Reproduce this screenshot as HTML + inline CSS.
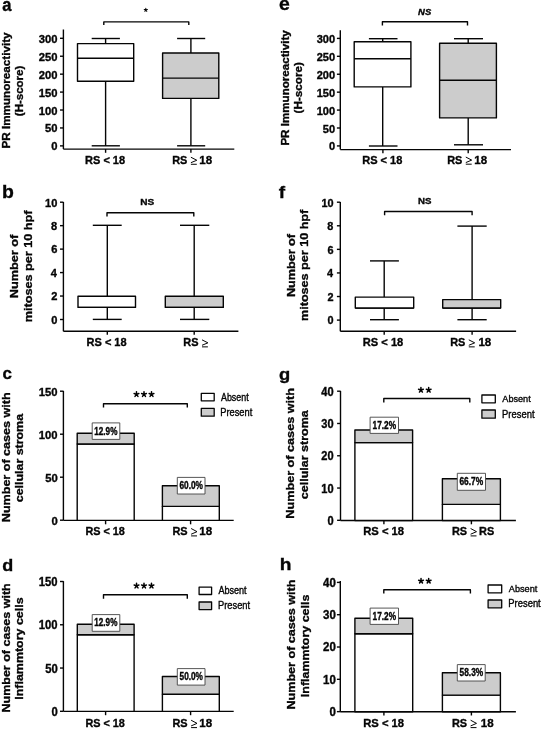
<!DOCTYPE html>
<html><head><meta charset="utf-8"><style>
html,body{margin:0;padding:0;background:#fff;}
svg{display:block;}
text{font-family:"Liberation Sans",sans-serif;fill:#050505;stroke:#050505;stroke-width:0.35px;vector-effect:non-scaling-stroke;}
</style></head><body>
<svg width="543" height="729" viewBox="0 0 543 729">
<rect width="543" height="729" fill="#fff"/>
<g stroke="#050505" fill="none" stroke-linecap="butt" stroke-linejoin="round">
<line x1="63.40" y1="29.50" x2="63.40" y2="149.10" stroke-width="1.4"/>
<line x1="60.00" y1="38.30" x2="63.40" y2="38.30" stroke-width="1.4"/>
<line x1="60.00" y1="56.23" x2="63.40" y2="56.23" stroke-width="1.4"/>
<line x1="60.00" y1="74.16" x2="63.40" y2="74.16" stroke-width="1.4"/>
<line x1="60.00" y1="92.09" x2="63.40" y2="92.09" stroke-width="1.4"/>
<line x1="60.00" y1="110.02" x2="63.40" y2="110.02" stroke-width="1.4"/>
<line x1="60.00" y1="127.95" x2="63.40" y2="127.95" stroke-width="1.4"/>
<line x1="60.00" y1="145.88" x2="63.40" y2="145.88" stroke-width="1.4"/>
<line x1="63.40" y1="149.10" x2="234.30" y2="149.10" stroke-width="1.4"/>
<line x1="105.60" y1="149.10" x2="105.60" y2="152.80" stroke-width="1.4"/>
<line x1="190.90" y1="149.10" x2="190.90" y2="152.80" stroke-width="1.4"/>
<line x1="105.60" y1="38.50" x2="105.60" y2="43.60" stroke-width="1.4"/>
<line x1="105.60" y1="81.20" x2="105.60" y2="145.80" stroke-width="1.4"/>
<line x1="91.70" y1="38.50" x2="119.90" y2="38.50" stroke-width="1.4"/>
<line x1="91.70" y1="145.80" x2="119.90" y2="145.80" stroke-width="1.4"/>
<rect x="77.50" y="43.60" width="56.20" height="37.60" fill="#fff" stroke="#050505" stroke-width="1.4"/>
<line x1="77.50" y1="58.20" x2="133.70" y2="58.20" stroke-width="1.4"/>
<line x1="190.90" y1="38.50" x2="190.90" y2="53.00" stroke-width="1.4"/>
<line x1="190.90" y1="98.40" x2="190.90" y2="145.80" stroke-width="1.4"/>
<line x1="177.10" y1="38.50" x2="205.20" y2="38.50" stroke-width="1.4"/>
<line x1="177.10" y1="145.80" x2="205.20" y2="145.80" stroke-width="1.4"/>
<rect x="162.60" y="53.00" width="56.20" height="45.40" fill="#cccccc" stroke="#050505" stroke-width="1.4"/>
<line x1="162.60" y1="78.10" x2="218.80" y2="78.10" stroke-width="1.4"/>
<polyline points="103.80,24.90 103.80,21.90 188.80,21.90 188.80,24.90" fill="none" stroke-width="1.4"/>
<path d="M145.80,9.98L145.80,8.30M145.80,9.98L147.39,9.46M145.80,9.98L144.20,9.46M145.80,9.98L146.78,11.33M145.80,9.98L144.81,11.33" stroke-width="1.01" stroke-linecap="round" stroke="#000"/>
<polyline points="190.90,157.24 196.80,160.25 190.90,162.69" fill="none" stroke-width="1.0" stroke-linejoin="miter"/>
<line x1="190.90" y1="164.27" x2="196.80" y2="164.27" stroke-width="1.0"/>
<line x1="340.30" y1="30.20" x2="340.30" y2="149.60" stroke-width="1.4"/>
<line x1="336.90" y1="38.40" x2="340.30" y2="38.40" stroke-width="1.4"/>
<line x1="336.90" y1="56.32" x2="340.30" y2="56.32" stroke-width="1.4"/>
<line x1="336.90" y1="74.24" x2="340.30" y2="74.24" stroke-width="1.4"/>
<line x1="336.90" y1="92.16" x2="340.30" y2="92.16" stroke-width="1.4"/>
<line x1="336.90" y1="110.08" x2="340.30" y2="110.08" stroke-width="1.4"/>
<line x1="336.90" y1="128.00" x2="340.30" y2="128.00" stroke-width="1.4"/>
<line x1="336.90" y1="145.92" x2="340.30" y2="145.92" stroke-width="1.4"/>
<line x1="340.30" y1="149.60" x2="511.00" y2="149.60" stroke-width="1.4"/>
<line x1="382.90" y1="149.60" x2="382.90" y2="153.20" stroke-width="1.4"/>
<line x1="468.20" y1="149.60" x2="468.20" y2="153.20" stroke-width="1.4"/>
<line x1="382.70" y1="38.70" x2="382.70" y2="41.80" stroke-width="1.4"/>
<line x1="382.70" y1="86.90" x2="382.70" y2="146.00" stroke-width="1.4"/>
<line x1="368.90" y1="38.70" x2="397.50" y2="38.70" stroke-width="1.4"/>
<line x1="368.90" y1="146.00" x2="397.50" y2="146.00" stroke-width="1.4"/>
<rect x="354.20" y="41.80" width="56.70" height="45.10" fill="#fff" stroke="#050505" stroke-width="1.4"/>
<line x1="354.20" y1="58.70" x2="410.90" y2="58.70" stroke-width="1.4"/>
<line x1="468.20" y1="38.70" x2="468.20" y2="43.30" stroke-width="1.4"/>
<line x1="468.20" y1="117.90" x2="468.20" y2="144.80" stroke-width="1.4"/>
<line x1="454.00" y1="38.70" x2="483.00" y2="38.70" stroke-width="1.4"/>
<line x1="454.00" y1="144.80" x2="483.00" y2="144.80" stroke-width="1.4"/>
<rect x="439.60" y="43.30" width="56.80" height="74.60" fill="#cccccc" stroke="#050505" stroke-width="1.4"/>
<line x1="439.60" y1="80.30" x2="496.40" y2="80.30" stroke-width="1.4"/>
<polyline points="382.40,25.40 382.40,21.70 467.50,21.70 467.50,25.40" fill="none" stroke-width="1.4"/>
<polyline points="465.80,157.06 471.70,160.10 465.80,162.58" fill="none" stroke-width="1.0" stroke-linejoin="miter"/>
<line x1="465.80" y1="164.18" x2="471.70" y2="164.18" stroke-width="1.0"/>
<line x1="63.40" y1="202.00" x2="63.40" y2="331.30" stroke-width="1.4"/>
<line x1="60.00" y1="202.20" x2="63.40" y2="202.20" stroke-width="1.4"/>
<line x1="60.00" y1="225.66" x2="63.40" y2="225.66" stroke-width="1.4"/>
<line x1="60.00" y1="249.12" x2="63.40" y2="249.12" stroke-width="1.4"/>
<line x1="60.00" y1="272.58" x2="63.40" y2="272.58" stroke-width="1.4"/>
<line x1="60.00" y1="296.04" x2="63.40" y2="296.04" stroke-width="1.4"/>
<line x1="60.00" y1="319.50" x2="63.40" y2="319.50" stroke-width="1.4"/>
<line x1="63.40" y1="331.30" x2="238.40" y2="331.30" stroke-width="1.4"/>
<line x1="107.30" y1="331.30" x2="107.30" y2="334.80" stroke-width="1.4"/>
<line x1="194.20" y1="331.30" x2="194.20" y2="334.80" stroke-width="1.4"/>
<line x1="107.30" y1="225.30" x2="107.30" y2="296.30" stroke-width="1.4"/>
<line x1="107.30" y1="307.40" x2="107.30" y2="319.40" stroke-width="1.4"/>
<line x1="92.80" y1="225.30" x2="121.70" y2="225.30" stroke-width="1.4"/>
<line x1="92.80" y1="319.40" x2="121.70" y2="319.40" stroke-width="1.4"/>
<rect x="78.00" y="296.30" width="57.50" height="11.10" fill="#fff" stroke="#050505" stroke-width="1.4"/>
<line x1="78.00" y1="307.40" x2="135.50" y2="307.40" stroke-width="1.4"/>
<line x1="194.20" y1="225.30" x2="194.20" y2="296.30" stroke-width="1.4"/>
<line x1="194.20" y1="307.40" x2="194.20" y2="319.40" stroke-width="1.4"/>
<line x1="180.00" y1="225.30" x2="209.30" y2="225.30" stroke-width="1.4"/>
<line x1="180.00" y1="319.40" x2="209.30" y2="319.40" stroke-width="1.4"/>
<rect x="165.30" y="296.30" width="58.00" height="11.10" fill="#cccccc" stroke="#050505" stroke-width="1.4"/>
<line x1="165.30" y1="307.40" x2="223.30" y2="307.40" stroke-width="1.4"/>
<polyline points="107.00,216.40 107.00,212.80 193.80,212.80 193.80,216.40" fill="none" stroke-width="1.4"/>
<polyline points="202.00,339.84 207.90,342.84 202.00,345.29" fill="none" stroke-width="1.0" stroke-linejoin="miter"/>
<line x1="202.00" y1="346.87" x2="207.90" y2="346.87" stroke-width="1.0"/>
<line x1="340.30" y1="202.00" x2="340.30" y2="331.30" stroke-width="1.4"/>
<line x1="336.90" y1="202.20" x2="340.30" y2="202.20" stroke-width="1.4"/>
<line x1="336.90" y1="225.78" x2="340.30" y2="225.78" stroke-width="1.4"/>
<line x1="336.90" y1="249.36" x2="340.30" y2="249.36" stroke-width="1.4"/>
<line x1="336.90" y1="272.94" x2="340.30" y2="272.94" stroke-width="1.4"/>
<line x1="336.90" y1="296.52" x2="340.30" y2="296.52" stroke-width="1.4"/>
<line x1="336.90" y1="320.10" x2="340.30" y2="320.10" stroke-width="1.4"/>
<line x1="340.30" y1="331.30" x2="516.10" y2="331.30" stroke-width="1.4"/>
<line x1="384.20" y1="331.30" x2="384.20" y2="334.80" stroke-width="1.4"/>
<line x1="472.10" y1="331.30" x2="472.10" y2="334.80" stroke-width="1.4"/>
<line x1="384.20" y1="260.90" x2="384.20" y2="297.10" stroke-width="1.4"/>
<line x1="384.20" y1="308.10" x2="384.20" y2="319.70" stroke-width="1.4"/>
<line x1="370.00" y1="260.90" x2="398.90" y2="260.90" stroke-width="1.4"/>
<line x1="370.00" y1="319.70" x2="398.90" y2="319.70" stroke-width="1.4"/>
<rect x="355.30" y="297.10" width="58.40" height="11.00" fill="#fff" stroke="#050505" stroke-width="1.4"/>
<line x1="355.30" y1="308.10" x2="413.70" y2="308.10" stroke-width="1.4"/>
<line x1="472.10" y1="226.10" x2="472.10" y2="299.60" stroke-width="1.4"/>
<line x1="472.10" y1="308.10" x2="472.10" y2="319.70" stroke-width="1.4"/>
<line x1="457.40" y1="226.10" x2="486.70" y2="226.10" stroke-width="1.4"/>
<line x1="457.40" y1="319.70" x2="486.70" y2="319.70" stroke-width="1.4"/>
<rect x="442.70" y="299.60" width="58.00" height="8.50" fill="#cccccc" stroke="#050505" stroke-width="1.4"/>
<line x1="442.70" y1="308.10" x2="500.70" y2="308.10" stroke-width="1.4"/>
<polyline points="384.60,215.20 384.60,211.50 472.10,211.50 472.10,215.20" fill="none" stroke-width="1.4"/>
<polyline points="468.80,339.84 474.70,342.84 468.80,345.29" fill="none" stroke-width="1.0" stroke-linejoin="miter"/>
<line x1="468.80" y1="346.87" x2="474.70" y2="346.87" stroke-width="1.0"/>
<line x1="63.40" y1="390.90" x2="63.40" y2="520.40" stroke-width="1.4"/>
<line x1="60.00" y1="391.20" x2="63.40" y2="391.20" stroke-width="1.4"/>
<line x1="60.00" y1="434.20" x2="63.40" y2="434.20" stroke-width="1.4"/>
<line x1="60.00" y1="477.20" x2="63.40" y2="477.20" stroke-width="1.4"/>
<line x1="60.00" y1="520.20" x2="63.40" y2="520.20" stroke-width="1.4"/>
<line x1="63.40" y1="520.40" x2="233.70" y2="520.40" stroke-width="1.4"/>
<line x1="105.60" y1="520.40" x2="105.60" y2="524.30" stroke-width="1.4"/>
<line x1="190.60" y1="520.40" x2="190.60" y2="524.30" stroke-width="1.4"/>
<rect x="77.20" y="444.00" width="57.00" height="76.40" fill="#fff" stroke="#050505" stroke-width="1.4"/>
<rect x="77.20" y="433.20" width="57.00" height="10.80" fill="#cccccc" stroke="#050505" stroke-width="1.4"/>
<rect x="162.40" y="506.40" width="56.90" height="14.00" fill="#fff" stroke="#050505" stroke-width="1.4"/>
<rect x="162.40" y="485.70" width="56.90" height="20.70" fill="#cccccc" stroke="#050505" stroke-width="1.4"/>
<rect x="92.20" y="422.90" width="27.60" height="16.50" fill="#fff" stroke="#444" stroke-width="0.9"/>
<rect x="177.30" y="477.40" width="27.70" height="16.60" fill="#fff" stroke="#444" stroke-width="0.9"/>
<polyline points="103.50,407.50 103.50,403.70 187.30,403.70 187.30,407.50" fill="none" stroke-width="1.4"/>
<path d="M136.48,394.35L136.48,391.85M136.48,394.35L138.86,393.58M136.48,394.35L134.10,393.58M136.48,394.35L137.95,396.37M136.48,394.35L135.01,396.37" stroke-width="1.50" stroke-linecap="round" stroke="#000"/>
<path d="M144.00,394.35L144.00,391.85M144.00,394.35L146.38,393.58M144.00,394.35L141.62,393.58M144.00,394.35L145.47,396.37M144.00,394.35L142.53,396.37" stroke-width="1.50" stroke-linecap="round" stroke="#000"/>
<path d="M151.52,394.35L151.52,391.85M151.52,394.35L153.90,393.58M151.52,394.35L149.14,393.58M151.52,394.35L152.99,396.37M151.52,394.35L150.05,396.37" stroke-width="1.50" stroke-linecap="round" stroke="#000"/>
<rect x="201.30" y="393.30" width="12.90" height="7.50" fill="#fff" stroke="#050505" stroke-width="1.3"/>
<rect x="201.30" y="408.40" width="12.90" height="7.80" fill="#cccccc" stroke="#050505" stroke-width="1.3"/>
<polyline points="191.10,528.51 197.00,531.66 191.10,534.24" fill="none" stroke-width="1.0" stroke-linejoin="miter"/>
<line x1="191.10" y1="535.90" x2="197.00" y2="535.90" stroke-width="1.0"/>
<line x1="340.50" y1="390.90" x2="340.50" y2="520.50" stroke-width="1.4"/>
<line x1="337.10" y1="391.20" x2="340.50" y2="391.20" stroke-width="1.4"/>
<line x1="337.10" y1="423.48" x2="340.50" y2="423.48" stroke-width="1.4"/>
<line x1="337.10" y1="455.76" x2="340.50" y2="455.76" stroke-width="1.4"/>
<line x1="337.10" y1="488.04" x2="340.50" y2="488.04" stroke-width="1.4"/>
<line x1="337.10" y1="520.32" x2="340.50" y2="520.32" stroke-width="1.4"/>
<line x1="340.50" y1="520.50" x2="515.90" y2="520.50" stroke-width="1.4"/>
<line x1="383.90" y1="520.50" x2="383.90" y2="524.30" stroke-width="1.4"/>
<line x1="471.40" y1="520.50" x2="471.40" y2="524.30" stroke-width="1.4"/>
<rect x="354.90" y="442.60" width="57.70" height="77.90" fill="#fff" stroke="#050505" stroke-width="1.4"/>
<rect x="354.90" y="430.00" width="57.70" height="12.60" fill="#cccccc" stroke="#050505" stroke-width="1.4"/>
<rect x="442.40" y="504.40" width="58.00" height="16.10" fill="#fff" stroke="#050505" stroke-width="1.4"/>
<rect x="442.40" y="478.70" width="58.00" height="25.70" fill="#cccccc" stroke="#050505" stroke-width="1.4"/>
<rect x="370.10" y="417.20" width="28.40" height="16.20" fill="#fff" stroke="#444" stroke-width="0.9"/>
<rect x="457.30" y="473.30" width="28.20" height="17.00" fill="#fff" stroke="#444" stroke-width="0.9"/>
<polyline points="383.80,402.50 383.80,398.50 469.80,398.50 469.80,402.50" fill="none" stroke-width="1.4"/>
<path d="M420.93,390.05L420.93,387.55M420.93,390.05L423.31,389.28M420.93,390.05L418.55,389.28M420.93,390.05L422.40,392.07M420.93,390.05L419.46,392.07" stroke-width="1.50" stroke-linecap="round" stroke="#000"/>
<path d="M428.67,390.05L428.67,387.55M428.67,390.05L431.05,389.28M428.67,390.05L426.29,389.28M428.67,390.05L430.14,392.07M428.67,390.05L427.20,392.07" stroke-width="1.50" stroke-linecap="round" stroke="#000"/>
<rect x="481.90" y="395.00" width="13.40" height="7.80" fill="#fff" stroke="#050505" stroke-width="1.3"/>
<rect x="481.90" y="410.00" width="13.40" height="8.20" fill="#cccccc" stroke="#050505" stroke-width="1.3"/>
<polyline points="470.60,528.51 476.50,531.66 470.60,534.24" fill="none" stroke-width="1.0" stroke-linejoin="miter"/>
<line x1="470.60" y1="535.90" x2="476.50" y2="535.90" stroke-width="1.0"/>
<line x1="63.40" y1="581.10" x2="63.40" y2="711.40" stroke-width="1.4"/>
<line x1="60.00" y1="581.50" x2="63.40" y2="581.50" stroke-width="1.4"/>
<line x1="60.00" y1="624.77" x2="63.40" y2="624.77" stroke-width="1.4"/>
<line x1="60.00" y1="668.04" x2="63.40" y2="668.04" stroke-width="1.4"/>
<line x1="60.00" y1="711.31" x2="63.40" y2="711.31" stroke-width="1.4"/>
<line x1="63.40" y1="711.40" x2="233.70" y2="711.40" stroke-width="1.4"/>
<line x1="105.60" y1="711.40" x2="105.60" y2="715.20" stroke-width="1.4"/>
<line x1="190.60" y1="711.40" x2="190.60" y2="715.20" stroke-width="1.4"/>
<rect x="77.30" y="634.80" width="56.80" height="76.60" fill="#fff" stroke="#050505" stroke-width="1.4"/>
<rect x="77.30" y="624.30" width="56.80" height="10.50" fill="#cccccc" stroke="#050505" stroke-width="1.4"/>
<rect x="162.40" y="694.30" width="56.90" height="17.10" fill="#fff" stroke="#050505" stroke-width="1.4"/>
<rect x="162.40" y="676.50" width="56.90" height="17.80" fill="#cccccc" stroke="#050505" stroke-width="1.4"/>
<rect x="92.20" y="614.60" width="27.60" height="16.70" fill="#fff" stroke="#444" stroke-width="0.9"/>
<rect x="177.30" y="668.60" width="27.70" height="16.50" fill="#fff" stroke="#444" stroke-width="0.9"/>
<polyline points="103.50,598.70 103.50,594.70 187.30,594.70 187.30,598.70" fill="none" stroke-width="1.4"/>
<path d="M136.53,585.85L136.53,583.35M136.53,585.85L138.91,585.08M136.53,585.85L134.15,585.08M136.53,585.85L138.00,587.87M136.53,585.85L135.06,587.87" stroke-width="1.50" stroke-linecap="round" stroke="#000"/>
<path d="M144.00,585.85L144.00,583.35M144.00,585.85L146.38,585.08M144.00,585.85L141.62,585.08M144.00,585.85L145.47,587.87M144.00,585.85L142.53,587.87" stroke-width="1.50" stroke-linecap="round" stroke="#000"/>
<path d="M151.47,585.85L151.47,583.35M151.47,585.85L153.85,585.08M151.47,585.85L149.09,585.08M151.47,585.85L152.94,587.87M151.47,585.85L150.00,587.87" stroke-width="1.50" stroke-linecap="round" stroke="#000"/>
<rect x="199.10" y="587.10" width="12.50" height="7.40" fill="#fff" stroke="#050505" stroke-width="1.3"/>
<rect x="199.10" y="602.00" width="12.50" height="7.60" fill="#cccccc" stroke="#050505" stroke-width="1.3"/>
<polyline points="191.10,720.21 197.00,723.37 191.10,725.94" fill="none" stroke-width="1.0" stroke-linejoin="miter"/>
<line x1="191.10" y1="727.60" x2="197.00" y2="727.60" stroke-width="1.0"/>
<line x1="340.30" y1="581.10" x2="340.30" y2="711.70" stroke-width="1.4"/>
<line x1="336.90" y1="582.40" x2="340.30" y2="582.40" stroke-width="1.4"/>
<line x1="336.90" y1="614.71" x2="340.30" y2="614.71" stroke-width="1.4"/>
<line x1="336.90" y1="647.02" x2="340.30" y2="647.02" stroke-width="1.4"/>
<line x1="336.90" y1="679.33" x2="340.30" y2="679.33" stroke-width="1.4"/>
<line x1="336.90" y1="711.64" x2="340.30" y2="711.64" stroke-width="1.4"/>
<line x1="340.30" y1="711.70" x2="515.90" y2="711.70" stroke-width="1.4"/>
<line x1="383.90" y1="711.70" x2="383.90" y2="715.50" stroke-width="1.4"/>
<line x1="471.40" y1="711.70" x2="471.40" y2="715.50" stroke-width="1.4"/>
<rect x="354.90" y="633.70" width="57.80" height="78.00" fill="#fff" stroke="#050505" stroke-width="1.4"/>
<rect x="354.90" y="618.20" width="57.80" height="15.50" fill="#cccccc" stroke="#050505" stroke-width="1.4"/>
<rect x="442.40" y="695.10" width="58.00" height="16.60" fill="#fff" stroke="#050505" stroke-width="1.4"/>
<rect x="442.40" y="672.70" width="58.00" height="22.40" fill="#cccccc" stroke="#050505" stroke-width="1.4"/>
<rect x="370.10" y="608.10" width="28.40" height="16.30" fill="#fff" stroke="#444" stroke-width="0.9"/>
<rect x="457.30" y="664.60" width="27.90" height="16.40" fill="#fff" stroke="#444" stroke-width="0.9"/>
<polyline points="383.80,593.50 383.80,589.80 470.40,589.80 470.40,593.50" fill="none" stroke-width="1.4"/>
<path d="M421.03,580.95L421.03,578.45M421.03,580.95L423.41,580.18M421.03,580.95L418.65,580.18M421.03,580.95L422.50,582.97M421.03,580.95L419.56,582.97" stroke-width="1.50" stroke-linecap="round" stroke="#000"/>
<path d="M428.67,580.95L428.67,578.45M428.67,580.95L431.05,580.18M428.67,580.95L426.29,580.18M428.67,580.95L430.14,582.97M428.67,580.95L427.20,582.97" stroke-width="1.50" stroke-linecap="round" stroke="#000"/>
<rect x="488.10" y="585.00" width="13.60" height="7.80" fill="#fff" stroke="#050505" stroke-width="1.3"/>
<rect x="488.10" y="600.00" width="13.60" height="7.80" fill="#cccccc" stroke="#050505" stroke-width="1.3"/>
<polyline points="470.60,720.21 476.50,723.37 470.60,725.94" fill="none" stroke-width="1.0" stroke-linejoin="miter"/>
<line x1="470.60" y1="727.60" x2="476.50" y2="727.60" stroke-width="1.0"/>
</g>
<g style="will-change:transform">
<text transform="matrix(0.16604 0 0 0.17818 2.302 10.622)" font-size="100" font-weight="bold" font-style="normal">a</text>
<text transform="matrix(0.11242 0 0 0.11268 38.775 42.787)" font-size="100" font-weight="bold" font-style="normal">300</text>
<text transform="matrix(0.11242 0 0 0.11268 38.775 60.717)" font-size="100" font-weight="bold" font-style="normal">250</text>
<text transform="matrix(0.11242 0 0 0.11268 38.775 78.647)" font-size="100" font-weight="bold" font-style="normal">200</text>
<text transform="matrix(0.11242 0 0 0.11268 38.775 96.577)" font-size="100" font-weight="bold" font-style="normal">150</text>
<text transform="matrix(0.11242 0 0 0.11268 38.775 114.507)" font-size="100" font-weight="bold" font-style="normal">100</text>
<text transform="matrix(0.11242 0 0 0.11268 45.071 132.437)" font-size="100" font-weight="bold" font-style="normal">50</text>
<text transform="matrix(0.11242 0 0 0.11268 51.366 150.367)" font-size="100" font-weight="bold" font-style="normal">0</text>
<text transform="matrix(0.11017 0 0 0.11127 85.029 163.689)" font-size="100" font-weight="bold" font-style="normal">RS &lt; 18</text>
<text transform="matrix(0.10938 0 0 0.11127 172.234 163.689)" font-size="100" font-weight="bold" font-style="normal">RS</text>
<text transform="matrix(0.11569 0 0 0.11127 199.206 163.689)" font-size="100" font-weight="bold" font-style="normal">18</text>
<text transform="matrix(0 -0.11672 0.11490 0 9.790 148.517)" font-size="100" font-weight="bold" font-style="normal">PR Immunoreactivity</text>
<text transform="matrix(0 -0.11515 0.11000 0 22.650 116.176)" font-size="100" font-weight="bold" font-style="normal">(H-score)</text>
<text transform="matrix(0.19375 0 0 0.17455 278.925 10.425)" font-size="100" font-weight="bold" font-style="normal">e</text>
<text transform="matrix(0.11056 0 0 0.11408 316.679 42.936)" font-size="100" font-weight="bold" font-style="normal">300</text>
<text transform="matrix(0.11056 0 0 0.11408 316.679 60.856)" font-size="100" font-weight="bold" font-style="normal">250</text>
<text transform="matrix(0.11056 0 0 0.11408 316.679 78.776)" font-size="100" font-weight="bold" font-style="normal">200</text>
<text transform="matrix(0.11056 0 0 0.11408 316.679 96.696)" font-size="100" font-weight="bold" font-style="normal">150</text>
<text transform="matrix(0.11056 0 0 0.11408 316.679 114.616)" font-size="100" font-weight="bold" font-style="normal">100</text>
<text transform="matrix(0.11056 0 0 0.11408 322.870 132.536)" font-size="100" font-weight="bold" font-style="normal">50</text>
<text transform="matrix(0.11056 0 0 0.11408 329.061 150.456)" font-size="100" font-weight="bold" font-style="normal">0</text>
<text transform="matrix(0.09485 0 0 0.09014 418.110 14.610)" font-size="100" font-weight="bold" font-style="italic">NS</text>
<text transform="matrix(0.11045 0 0 0.11268 362.227 163.587)" font-size="100" font-weight="bold" font-style="normal">RS &lt; 18</text>
<text transform="matrix(0.10938 0 0 0.11268 447.134 163.587)" font-size="100" font-weight="bold" font-style="normal">RS</text>
<text transform="matrix(0.11569 0 0 0.11268 474.206 163.587)" font-size="100" font-weight="bold" font-style="normal">18</text>
<text transform="matrix(0 -0.11611 0.10640 0 289.270 145.613)" font-size="100" font-weight="bold" font-style="normal">PR Immunoreactivity</text>
<text transform="matrix(0 -0.11702 0.11000 0 302.100 113.385)" font-size="100" font-weight="bold" font-style="normal">(H-score)</text>
<text transform="matrix(0.19400 0 0 0.17671 1.942 198.000)" font-size="100" font-weight="bold" font-style="normal">b</text>
<text transform="matrix(0.11089 0 0 0.11408 45.035 206.536)" font-size="100" font-weight="bold" font-style="normal">10</text>
<text transform="matrix(0.11089 0 0 0.11408 51.023 229.996)" font-size="100" font-weight="bold" font-style="normal">8</text>
<text transform="matrix(0.11089 0 0 0.11408 51.134 253.456)" font-size="100" font-weight="bold" font-style="normal">6</text>
<text transform="matrix(0.11089 0 0 0.11739 50.801 277.030)" font-size="100" font-weight="bold" font-style="normal">4</text>
<text transform="matrix(0.11089 0 0 0.11571 51.134 300.490)" font-size="100" font-weight="bold" font-style="normal">2</text>
<text transform="matrix(0.11089 0 0 0.11408 51.245 323.836)" font-size="100" font-weight="bold" font-style="normal">0</text>
<text transform="matrix(0.10078 0 0 0.09577 140.295 205.304)" font-size="100" font-weight="bold" font-style="normal">NS</text>
<text transform="matrix(0.11017 0 0 0.11127 86.529 346.289)" font-size="100" font-weight="bold" font-style="normal">RS &lt; 18</text>
<text transform="matrix(0.10938 0 0 0.11127 183.334 346.289)" font-size="100" font-weight="bold" font-style="normal">RS</text>
<text transform="matrix(0 -0.12738 0.10950 0 18.290 298.292)" font-size="100" font-weight="bold" font-style="normal">Number of</text>
<text transform="matrix(0 -0.12668 0.11200 0 31.800 322.287)" font-size="100" font-weight="bold" font-style="normal">mitoses per 10 hpf</text>
<text transform="matrix(0.19032 0 0 0.17397 278.719 197.800)" font-size="100" font-weight="bold" font-style="normal">f</text>
<text transform="matrix(0.10891 0 0 0.11408 321.447 206.536)" font-size="100" font-weight="bold" font-style="normal">10</text>
<text transform="matrix(0.10891 0 0 0.11408 327.328 230.116)" font-size="100" font-weight="bold" font-style="normal">8</text>
<text transform="matrix(0.10891 0 0 0.11408 327.437 253.696)" font-size="100" font-weight="bold" font-style="normal">6</text>
<text transform="matrix(0.10891 0 0 0.11739 327.110 277.390)" font-size="100" font-weight="bold" font-style="normal">4</text>
<text transform="matrix(0.10891 0 0 0.11571 327.437 300.970)" font-size="100" font-weight="bold" font-style="normal">2</text>
<text transform="matrix(0.10891 0 0 0.11408 327.546 324.436)" font-size="100" font-weight="bold" font-style="normal">0</text>
<text transform="matrix(0.09687 0 0 0.09577 418.122 204.104)" font-size="100" font-weight="bold" font-style="normal">NS</text>
<text transform="matrix(0.11130 0 0 0.11127 362.821 346.289)" font-size="100" font-weight="bold" font-style="normal">RS &lt; 18</text>
<text transform="matrix(0.10938 0 0 0.11127 450.134 346.289)" font-size="100" font-weight="bold" font-style="normal">RS</text>
<text transform="matrix(0.11569 0 0 0.11127 478.406 346.289)" font-size="100" font-weight="bold" font-style="normal">18</text>
<text transform="matrix(0 -0.12637 0.11220 0 295.100 297.085)" font-size="100" font-weight="bold" font-style="normal">Number of</text>
<text transform="matrix(0 -0.12600 0.11200 0 307.600 320.982)" font-size="100" font-weight="bold" font-style="normal">mitoses per 10 hpf</text>
<text transform="matrix(0.16939 0 0 0.16727 2.622 379.333)" font-size="100" font-weight="bold" font-style="normal">c</text>
<text transform="matrix(0.11274 0 0 0.11690 38.824 395.783)" font-size="100" font-weight="bold" font-style="normal">150</text>
<text transform="matrix(0.11274 0 0 0.11690 38.824 438.783)" font-size="100" font-weight="bold" font-style="normal">100</text>
<text transform="matrix(0.11274 0 0 0.11690 45.137 481.783)" font-size="100" font-weight="bold" font-style="normal">50</text>
<text transform="matrix(0.11274 0 0 0.11690 51.450 524.783)" font-size="100" font-weight="bold" font-style="normal">0</text>
<text transform="matrix(0.08145 0 0 0.10423 94.311 434.696)" font-size="100" font-weight="bold" font-style="normal">12.9%</text>
<text transform="matrix(0.08267 0 0 0.10282 179.469 489.197)" font-size="100" font-weight="bold" font-style="normal">60.0%</text>
<text transform="matrix(0.08875 0 0 0.10135 221.000 400.699)" font-size="100" font-weight="normal" font-style="normal">Absent</text>
<text transform="matrix(0.09286 0 0 0.10429 220.257 415.896)" font-size="100" font-weight="normal" font-style="normal">Present</text>
<text transform="matrix(0.10847 0 0 0.11690 85.441 535.283)" font-size="100" font-weight="bold" font-style="normal">RS &lt; 18</text>
<text transform="matrix(0.10938 0 0 0.11690 172.434 535.283)" font-size="100" font-weight="bold" font-style="normal">RS</text>
<text transform="matrix(0.11569 0 0 0.11690 199.206 535.283)" font-size="100" font-weight="bold" font-style="normal">18</text>
<text transform="matrix(0 -0.12569 0.11200 0 10.200 522.180)" font-size="100" font-weight="bold" font-style="normal">Number of cases with</text>
<text transform="matrix(0 -0.12415 0.11200 0 22.500 502.197)" font-size="100" font-weight="bold" font-style="normal">cellular stroma</text>
<text transform="matrix(0.18400 0 0 0.17333 278.964 379.560)" font-size="100" font-weight="bold" font-style="normal">g</text>
<text transform="matrix(0.11058 0 0 0.12394 321.368 395.926)" font-size="100" font-weight="bold" font-style="normal">40</text>
<text transform="matrix(0.11058 0 0 0.12394 321.368 428.206)" font-size="100" font-weight="bold" font-style="normal">30</text>
<text transform="matrix(0.11058 0 0 0.12394 321.368 460.486)" font-size="100" font-weight="bold" font-style="normal">20</text>
<text transform="matrix(0.11058 0 0 0.12394 321.368 492.766)" font-size="100" font-weight="bold" font-style="normal">10</text>
<text transform="matrix(0.11058 0 0 0.12394 327.561 525.046)" font-size="100" font-weight="bold" font-style="normal">0</text>
<text transform="matrix(0.08291 0 0 0.10423 372.603 428.996)" font-size="100" font-weight="bold" font-style="normal">17.2%</text>
<text transform="matrix(0.08375 0 0 0.10704 459.465 485.293)" font-size="100" font-weight="bold" font-style="normal">66.7%</text>
<text transform="matrix(0.09132 0 0 0.09730 502.300 402.403)" font-size="100" font-weight="normal" font-style="normal">Absent</text>
<text transform="matrix(0.09435 0 0 0.11143 502.045 417.689)" font-size="100" font-weight="normal" font-style="normal">Present</text>
<text transform="matrix(0.11243 0 0 0.11690 363.213 535.283)" font-size="100" font-weight="bold" font-style="normal">RS &lt; 18</text>
<text transform="matrix(0.10938 0 0 0.11690 451.934 535.283)" font-size="100" font-weight="bold" font-style="normal">RS</text>
<text transform="matrix(0.10938 0 0 0.11690 479.034 535.283)" font-size="100" font-weight="bold" font-style="normal">RS</text>
<text transform="matrix(0 -0.12657 0.11200 0 293.500 518.686)" font-size="100" font-weight="bold" font-style="normal">Number of cases with</text>
<text transform="matrix(0 -0.12514 0.11200 0 307.800 499.201)" font-size="100" font-weight="bold" font-style="normal">cellular stroma</text>
<text transform="matrix(0.18000 0 0 0.17397 2.280 570.900)" font-size="100" font-weight="bold" font-style="normal">d</text>
<text transform="matrix(0.11274 0 0 0.12113 38.824 586.179)" font-size="100" font-weight="bold" font-style="normal">150</text>
<text transform="matrix(0.11274 0 0 0.12113 38.824 629.449)" font-size="100" font-weight="bold" font-style="normal">100</text>
<text transform="matrix(0.11274 0 0 0.12113 45.137 672.719)" font-size="100" font-weight="bold" font-style="normal">50</text>
<text transform="matrix(0.11274 0 0 0.12113 51.450 715.989)" font-size="100" font-weight="bold" font-style="normal">0</text>
<text transform="matrix(0.08145 0 0 0.10141 94.311 626.299)" font-size="100" font-weight="bold" font-style="normal">12.9%</text>
<text transform="matrix(0.08237 0 0 0.10563 179.553 680.194)" font-size="100" font-weight="bold" font-style="normal">50.0%</text>
<text transform="matrix(0.09068 0 0 0.10270 218.400 594.397)" font-size="100" font-weight="normal" font-style="normal">Absent</text>
<text transform="matrix(0.09345 0 0 0.11286 217.952 609.487)" font-size="100" font-weight="normal" font-style="normal">Present</text>
<text transform="matrix(0.10847 0 0 0.11690 85.441 726.983)" font-size="100" font-weight="bold" font-style="normal">RS &lt; 18</text>
<text transform="matrix(0.10938 0 0 0.11690 172.434 726.983)" font-size="100" font-weight="bold" font-style="normal">RS</text>
<text transform="matrix(0.11569 0 0 0.11690 199.206 726.983)" font-size="100" font-weight="bold" font-style="normal">18</text>
<text transform="matrix(0 -0.12510 0.11200 0 10.300 712.476)" font-size="100" font-weight="bold" font-style="normal">Number of cases with</text>
<text transform="matrix(0 -0.12429 0.11200 0 23.400 699.670)" font-size="100" font-weight="bold" font-style="normal">Inflammtory cells</text>
<text transform="matrix(0.19167 0 0 0.17123 279.658 570.200)" font-size="100" font-weight="bold" font-style="normal">h</text>
<text transform="matrix(0.11524 0 0 0.11972 322.970 586.730)" font-size="100" font-weight="bold" font-style="normal">40</text>
<text transform="matrix(0.11524 0 0 0.11972 322.970 619.040)" font-size="100" font-weight="bold" font-style="normal">30</text>
<text transform="matrix(0.11524 0 0 0.11972 322.970 651.350)" font-size="100" font-weight="bold" font-style="normal">20</text>
<text transform="matrix(0.11524 0 0 0.11972 322.970 683.660)" font-size="100" font-weight="bold" font-style="normal">10</text>
<text transform="matrix(0.11524 0 0 0.11972 329.423 715.970)" font-size="100" font-weight="bold" font-style="normal">0</text>
<text transform="matrix(0.08291 0 0 0.10563 372.603 619.994)" font-size="100" font-weight="bold" font-style="normal">17.2%</text>
<text transform="matrix(0.08345 0 0 0.10282 459.550 676.397)" font-size="100" font-weight="bold" font-style="normal">58.3%</text>
<text transform="matrix(0.09196 0 0 0.09730 508.800 592.403)" font-size="100" font-weight="normal" font-style="normal">Absent</text>
<text transform="matrix(0.09405 0 0 0.10429 508.348 607.196)" font-size="100" font-weight="normal" font-style="normal">Present</text>
<text transform="matrix(0.11243 0 0 0.11690 363.213 726.983)" font-size="100" font-weight="bold" font-style="normal">RS &lt; 18</text>
<text transform="matrix(0.10938 0 0 0.11690 451.934 726.983)" font-size="100" font-weight="bold" font-style="normal">RS</text>
<text transform="matrix(0.11569 0 0 0.11690 480.806 726.983)" font-size="100" font-weight="bold" font-style="normal">18</text>
<text transform="matrix(0 -0.12578 0.11220 0 295.290 709.480)" font-size="100" font-weight="bold" font-style="normal">Number of cases with</text>
<text transform="matrix(0 -0.12478 0.11200 0 308.800 697.173)" font-size="100" font-weight="bold" font-style="normal">Inflammtory cells</text>
</g>
</svg>
</body></html>
